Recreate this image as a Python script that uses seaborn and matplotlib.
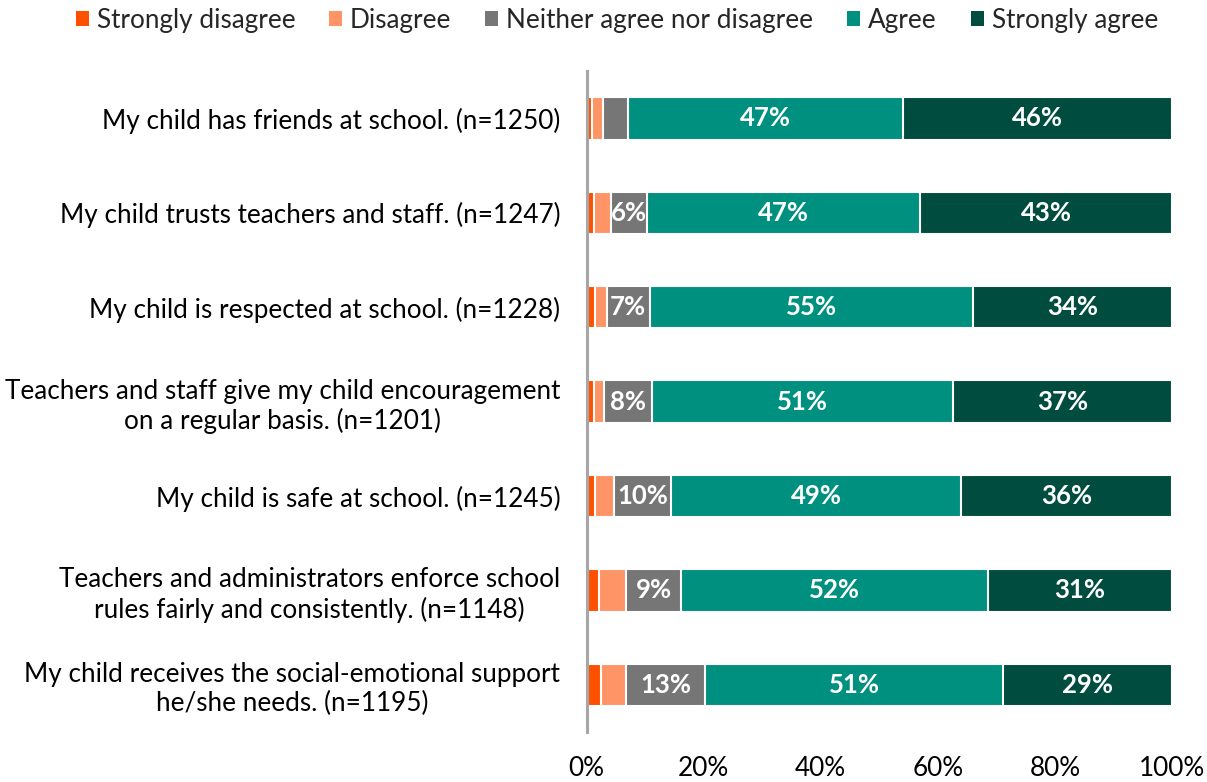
import matplotlib
matplotlib.use("Agg")
import matplotlib.pyplot as plt
from matplotlib.patches import Patch
import seaborn as sns
import pandas as pd
import numpy as np

statements = [
    "My child has friends at school. (n=1250)",
    "My child trusts teachers and staff. (n=1247)",
    "My child is respected at school. (n=1228)",
    "Teachers and staff give my child encouragement\non a regular basis. (n=1201)",
    "My child is safe at school. (n=1245)",
    "Teachers and administrators enforce school\nrules fairly and consistently. (n=1148)",
    "My child receives the social-emotional support\nhe/she needs. (n=1195)",
]
responses = ["Strongly disagree", "Disagree", "Neither agree nor disagree", "Agree", "Strongly agree"]

strongly_disagree = [1.0, 1.2, 1.5, 1.2, 1.5, 2.1, 2.4]
disagree = [1.8, 2.9, 1.9, 1.8, 3.1, 4.7, 4.4]
neither = [4.2, 6.2, 7.4, 8.2, 9.9, 9.4, 13.4]
agree = [47, 46.7, 55.2, 51.4, 49.4, 52.4, 51]
strongly_agree = [46, 43, 34, 37.4, 36.1, 31.4, 28.8]

colors = ["#FF5000", "#FF9466", "#767676", "#009080", "#004D40"]
labelled = [False, False, True, True, True]

sns.set_theme(style="white")
plt.rcParams["font.family"] = ["Lato", "DejaVu Sans"]

df = pd.DataFrame({
    "statement": statements,
    responses[0]: strongly_disagree,
    responses[1]: disagree,
    responses[2]: neither,
    responses[3]: agree,
    responses[4]: strongly_agree,
})
cum = df[responses].cumsum(axis=1)

fig, ax = plt.subplots(figsize=(12.07, 7.82), dpi=100)
fig.subplots_adjust(left=0.486, right=0.971, top=0.909, bottom=0.064)

# stacked bars: draw cumulative totals from the last segment back to the first
for resp, col in reversed(list(zip(responses, colors))):
    sns.barplot(x=cum[resp], y=df["statement"], orient="h", color=col,
                saturation=1, width=0.45, edgecolor="white", linewidth=1.5,
                ax=ax)

for i in range(len(df)):
    for resp, show in zip(responses, labelled):
        v = df[resp].iloc[i]
        if show and v >= 5:
            ax.text(cum[resp].iloc[i] - v / 2, i, f"{round(v)}%", ha="center",
                    va="center", color="white", fontsize=18.5, fontweight="bold")

ax.set_xlim(0, 100)
ax.set_ylim(6.5, -0.5)
ax.set_xticks(np.arange(0, 101, 20))
ax.set_xticklabels([f"{t}%" for t in range(0, 101, 20)])
ax.set_xlabel("")
ax.set_ylabel("")
ax.tick_params(axis="x", length=0, pad=17, labelsize=18.8, colors="black")
ax.tick_params(axis="y", length=0, pad=19, labelsize=18.8, colors="black")
for lab in ax.get_yticklabels():
    lab.set_multialignment("center")

for s in ["top", "right", "bottom"]:
    ax.spines[s].set_visible(False)
ax.spines["left"].set_color("#A6A6A6")
ax.spines["left"].set_linewidth(2.2)

leg_handles = [Patch(facecolor=c, edgecolor="none") for c in colors]
fig.legend(leg_handles, responses, loc="upper center", bbox_to_anchor=(0.511, 1.02),
           ncol=5, frameon=False, fontsize=18.8, handlelength=0.5, handleheight=0.5,
           handletextpad=0.3, columnspacing=1.3)

plt.savefig("out.png", dpi=100)
